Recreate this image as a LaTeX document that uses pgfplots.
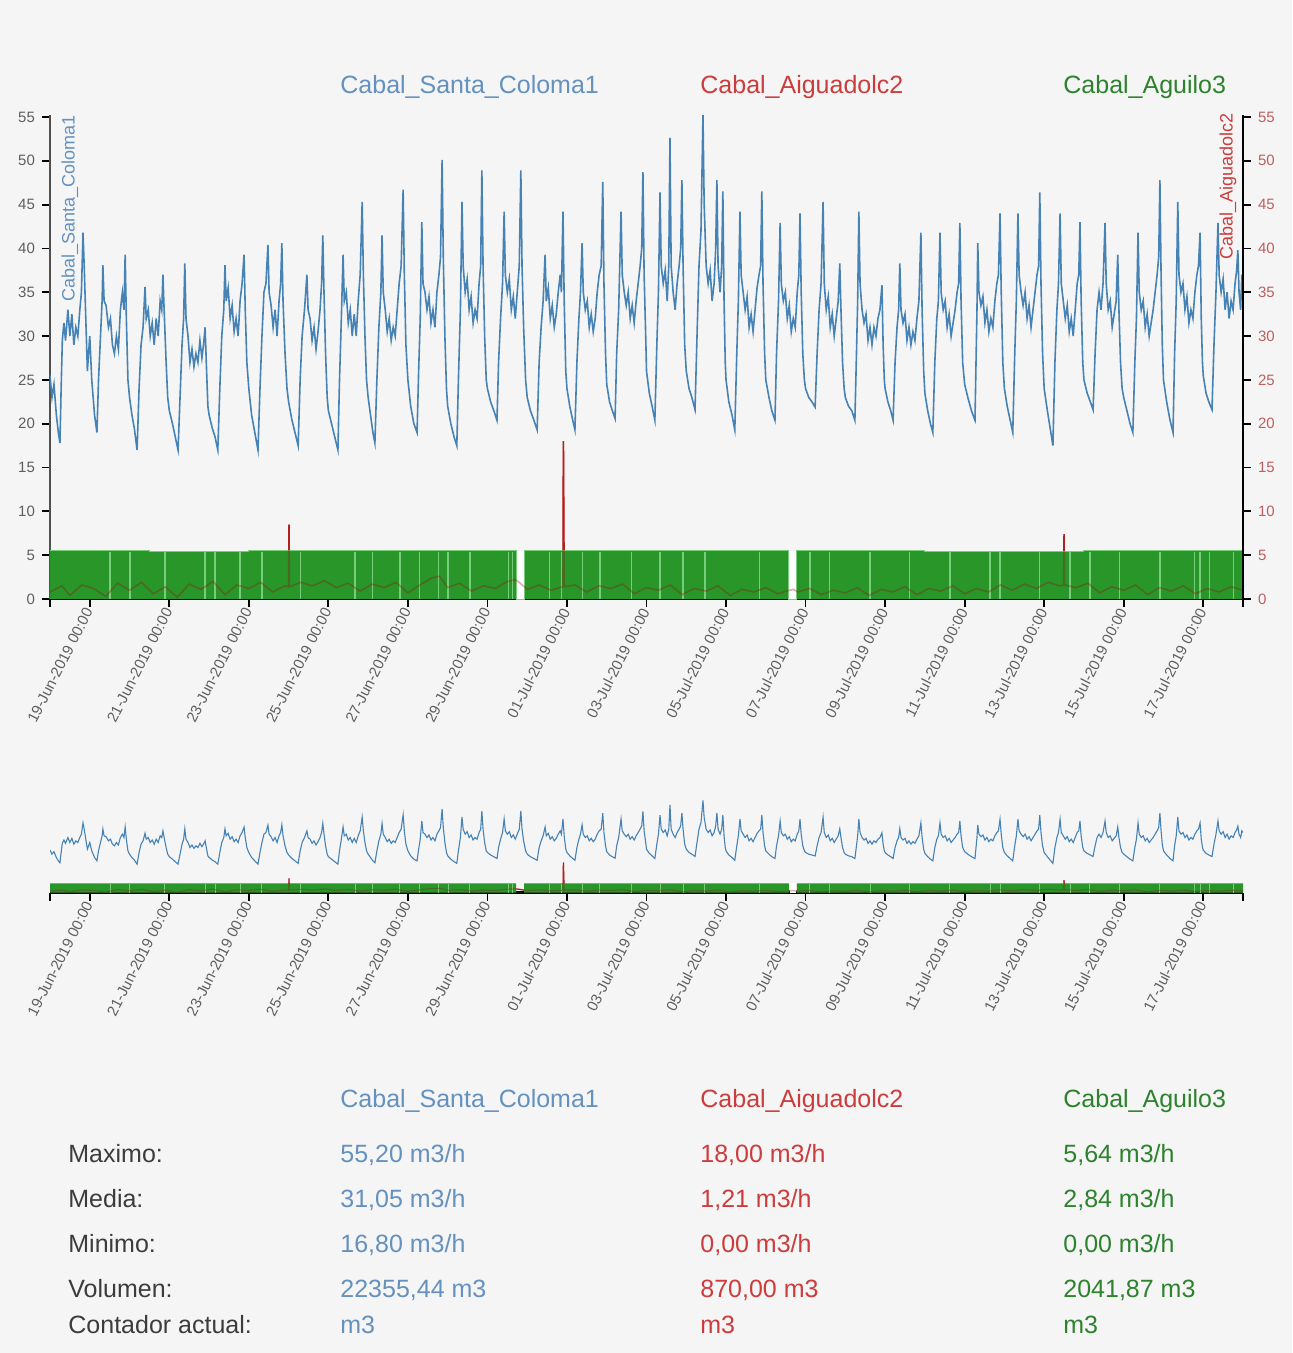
\documentclass[border=0pt]{standalone}
\usepackage{pgfplots}
\pgfplotsset{compat=1.18}
\usepackage{pgfplotstable}
\usepackage{fontspec}
\setmainfont{Liberation Sans}
\definecolor{bg}{RGB}{245,245,245}
\definecolor{blueline}{RGB}{70,130,180}
\definecolor{bluetext}{RGB}{100,145,190}
\definecolor{redline}{RGB}{200,35,35}
\definecolor{redtext}{RGB}{205,60,60}
\definecolor{greenfill}{RGB}{40,150,40}
\definecolor{greenlight}{RGB}{120,205,120}
\definecolor{greentext}{RGB}{45,130,45}
\definecolor{tickgray}{RGB}{95,95,95}
\definecolor{labgray}{RGB}{60,60,60}
\definecolor{righttick}{RGB}{190,95,95}

\pgfplotstableread[row sep=\\]{t v\\
0.00 25.5\\ 0.05 23\\ 0.10 24.5\\ 0.16 21\\ 0.21 19\\ 0.25 17.8\\ 0.28 24\\ 0.31 29.5\\ 0.35 31.5\\ 0.39 29.5\\ 0.45 33\\ 0.50 30\\ 0.55 32.5\\ 0.60 29\\ 0.65 31\\ 0.70 30\\ 0.75 33\\ 0.79 35\\ 0.83 41.8\\ 0.86 38\\ 0.90 32\\ 0.94 26\\
1.00 30\\ 1.05 25\\ 1.12 21\\ 1.18 19\\ 1.22 25\\ 1.27 30\\ 1.31 34\\ 1.33 38.1\\ 1.36 34\\ 1.41 33.5\\ 1.47 31\\ 1.52 32\\ 1.57 29\\ 1.62 28\\ 1.67 30\\ 1.72 28.5\\ 1.77 33\\ 1.82 35\\ 1.86 33\\ 1.89 39.3\\ 1.92 32\\ 1.96 25\\
2.00 23\\ 2.06 21\\ 2.12 19.5\\ 2.19 17\\ 2.24 24\\ 2.29 29\\ 2.34 31\\ 2.39 35.6\\ 2.42 32\\ 2.47 33\\ 2.52 30\\ 2.57 31.5\\ 2.62 29\\ 2.67 32\\ 2.72 30\\ 2.77 34\\ 2.81 33\\ 2.84 37\\ 2.87 33\\ 2.92 27\\ 2.96 23\\
3.00 21.5\\ 3.08 20\\ 3.15 18.5\\ 3.22 17\\ 3.27 23\\ 3.32 29\\ 3.36 32\\ 3.39 38.3\\ 3.42 32\\ 3.47 30\\ 3.52 27\\ 3.57 28.5\\ 3.62 26.5\\ 3.67 28\\ 3.72 27\\ 3.77 29.5\\ 3.82 27.5\\ 3.86 29\\ 3.90 31\\ 3.93 27\\ 3.97 22\\
4.00 21\\ 4.08 19.5\\ 4.15 18.5\\ 4.22 17\\ 4.27 24\\ 4.32 30\\ 4.37 33\\ 4.40 38.1\\ 4.43 34\\ 4.48 35.5\\ 4.53 32\\ 4.58 33.5\\ 4.63 30.5\\ 4.68 32\\ 4.73 30\\ 4.78 34\\ 4.83 36\\ 4.88 39.3\\ 4.91 33\\ 4.95 27\\
5.00 24\\ 5.07 21\\ 5.15 19\\ 5.23 17\\ 5.28 24\\ 5.33 30\\ 5.38 35\\ 5.43 36\\ 5.48 40.4\\ 5.51 35\\ 5.56 33.5\\ 5.61 31\\ 5.66 33\\ 5.71 30\\ 5.76 34\\ 5.80 36\\ 5.83 40.6\\ 5.86 34\\ 5.91 28\\ 5.96 24\\
6.00 22.5\\ 6.08 20.5\\ 6.16 19\\ 6.24 17.5\\ 6.29 25\\ 6.34 30\\ 6.40 33\\ 6.46 37\\ 6.49 33\\ 6.54 32\\ 6.59 29.5\\ 6.64 31\\ 6.69 28.5\\ 6.74 30.5\\ 6.79 33\\ 6.83 36\\ 6.86 41.5\\ 6.89 35\\ 6.93 28\\ 6.97 23\\
7.00 21.5\\ 7.08 20\\ 7.16 18.5\\ 7.24 17\\ 7.28 25\\ 7.32 31\\ 7.37 39.3\\ 7.40 34\\ 7.45 35\\ 7.50 31.5\\ 7.55 33\\ 7.60 30\\ 7.65 32.5\\ 7.70 30\\ 7.75 34\\ 7.80 37\\ 7.85 45.3\\ 7.88 37\\ 7.92 30\\ 7.96 25\\
8.00 23\\ 8.06 21\\ 8.12 19\\ 8.17 17.8\\ 8.22 25\\ 8.27 31\\ 8.32 35\\ 8.35 41.5\\ 8.38 35\\ 8.43 33\\ 8.48 30.5\\ 8.53 32\\ 8.58 29.5\\ 8.63 31\\ 8.68 30\\ 8.73 33\\ 8.78 36\\ 8.83 38\\ 8.88 46.7\\ 8.91 37\\ 8.95 29\\
9.00 25\\ 9.07 22\\ 9.15 20\\ 9.23 19\\ 9.27 26\\ 9.31 32\\ 9.35 43\\ 9.38 36\\ 9.43 35\\ 9.48 33\\ 9.53 34.5\\ 9.58 31.5\\ 9.63 33\\ 9.68 31\\ 9.73 35\\ 9.78 37\\ 9.82 39\\ 9.86 50.1\\ 9.89 39\\ 9.93 30\\ 9.97 24\\
10.00 22\\ 10.08 20\\ 10.16 18.5\\ 10.23 17.5\\ 10.27 25\\ 10.32 33\\ 10.36 45.3\\ 10.39 38\\ 10.44 35\\ 10.49 36.5\\ 10.54 33\\ 10.59 34.5\\ 10.64 31.5\\ 10.69 33\\ 10.74 32\\ 10.79 36\\ 10.83 38\\ 10.86 48.9\\ 10.89 38\\ 10.93 30\\ 10.97 25\\
11.00 24\\ 11.08 22.5\\ 11.16 21.5\\ 11.24 20.4\\ 11.28 27\\ 11.33 32\\ 11.38 36\\ 11.42 44.2\\ 11.45 37\\ 11.50 35\\ 11.55 36.5\\ 11.60 33\\ 11.65 34.5\\ 11.70 32\\ 11.75 35\\ 11.80 38\\ 11.84 48.9\\ 11.87 38\\ 11.91 31\\ 11.96 25\\
12.00 23\\ 12.08 21.5\\ 12.16 20.5\\ 12.25 19.3\\ 12.30 27\\ 12.35 31\\ 12.40 34\\ 12.45 39.3\\ 12.48 34\\ 12.53 35.5\\ 12.58 32\\ 12.63 33.5\\ 12.68 31\\ 12.73 32.5\\ 12.78 35\\ 12.83 37\\ 12.86 35\\ 12.90 44.2\\ 12.93 34\\ 12.97 26\\
13.00 24\\ 13.07 22\\ 13.14 20.5\\ 13.20 19.3\\ 13.25 27\\ 13.30 32\\ 13.34 35\\ 13.38 40.6\\ 13.41 35\\ 13.46 33\\ 13.51 34\\ 13.56 31\\ 13.61 32.5\\ 13.66 30.5\\ 13.71 32\\ 13.76 35\\ 13.81 37\\ 13.86 38\\ 13.90 47.6\\ 13.93 36\\ 13.97 28\\
14.00 24.5\\ 14.07 22.5\\ 14.14 21.5\\ 14.21 20.6\\ 14.25 28\\ 14.30 33\\ 14.36 44.2\\ 14.39 37\\ 14.44 35\\ 14.49 33.5\\ 14.54 35\\ 14.59 32\\ 14.64 33.5\\ 14.69 31.5\\ 14.74 34\\ 14.79 36\\ 14.84 38\\ 14.88 40\\ 14.91 48.7\\ 14.94 37\\ 14.98 30\\
15.00 26\\ 15.07 23.5\\ 15.14 22\\ 15.21 20.4\\ 15.26 29\\ 15.30 35\\ 15.34 46.4\\ 15.37 38\\ 15.42 36\\ 15.47 37.5\\ 15.52 34\\ 15.56 38\\ 15.59 52.6\\ 15.62 38\\ 15.67 35\\ 15.72 33\\ 15.77 36\\ 15.82 38\\ 15.86 40\\ 15.89 47.8\\ 15.92 38\\ 15.96 29\\
16.00 26\\ 16.07 24\\ 16.14 23\\ 16.22 21.6\\ 16.27 30\\ 16.32 38\\ 16.37 42\\ 16.42 55.2\\ 16.45 45\\ 16.50 38\\ 16.55 36\\ 16.60 37.5\\ 16.65 34\\ 16.70 36\\ 16.74 40\\ 16.77 47.8\\ 16.80 38\\ 16.85 35\\ 16.89 38\\ 16.92 46.5\\ 16.95 34\\ 16.98 27\\
17.00 25\\ 17.07 22.5\\ 17.15 21\\ 17.22 19.3\\ 17.27 28\\ 17.31 34\\ 17.35 44.2\\ 17.38 37\\ 17.43 35\\ 17.48 33\\ 17.53 34.5\\ 17.58 31\\ 17.63 32.5\\ 17.68 30.5\\ 17.73 33\\ 17.78 35.5\\ 17.83 37\\ 17.87 38\\ 17.90 46.5\\ 17.93 36\\ 17.97 28\\
18.00 25\\ 18.08 23\\ 18.15 21.5\\ 18.23 20.4\\ 18.27 28\\ 18.32 34\\ 18.36 42.9\\ 18.39 36\\ 18.44 34\\ 18.49 35\\ 18.54 32\\ 18.59 33.5\\ 18.64 30.5\\ 18.69 32\\ 18.74 31\\ 18.79 35\\ 18.83 37\\ 18.86 44\\ 18.89 35\\ 18.93 28\\ 18.97 25\\
19.00 24\\ 19.08 23\\ 19.16 22.5\\ 19.24 21.9\\ 19.29 28\\ 19.34 33\\ 19.39 36\\ 19.44 45.3\\ 19.47 36\\ 19.52 33\\ 19.57 34.5\\ 19.62 31\\ 19.67 32.5\\ 19.72 30\\ 19.77 32\\ 19.82 34\\ 19.86 38.3\\ 19.89 33\\ 19.93 27\\ 19.97 24\\
20.00 23\\ 20.08 22\\ 20.16 21.5\\ 20.24 20.4\\ 20.28 28\\ 20.31 34\\ 20.34 44.2\\ 20.37 36\\ 20.42 33\\ 20.47 31.5\\ 20.52 32.5\\ 20.57 29.5\\ 20.62 31\\ 20.67 29\\ 20.72 31\\ 20.77 30\\ 20.82 32\\ 20.87 33\\ 20.92 35.8\\ 20.95 29\\ 20.98 25\\
21.00 24\\ 21.07 22.5\\ 21.14 21.5\\ 21.20 20.4\\ 21.25 27\\ 21.30 31\\ 21.34 33\\ 21.37 38.3\\ 21.40 33\\ 21.45 31.5\\ 21.50 32.5\\ 21.55 29.5\\ 21.60 31\\ 21.65 29\\ 21.70 30.5\\ 21.75 29.5\\ 21.80 32\\ 21.85 34\\ 21.90 41.8\\ 21.93 33\\ 21.97 26\\
22.00 23.5\\ 22.07 21.5\\ 22.14 20\\ 22.20 19\\ 22.25 27\\ 22.30 32\\ 22.34 34\\ 22.38 41.8\\ 22.41 35\\ 22.46 33\\ 22.51 34\\ 22.56 31\\ 22.61 32.5\\ 22.66 30\\ 22.71 31.5\\ 22.76 33\\ 22.81 35\\ 22.85 36\\ 22.88 42.9\\ 22.91 34\\ 22.95 27\\
23.00 24.5\\ 23.08 23\\ 23.17 21.5\\ 23.26 20.4\\ 23.29 28\\ 23.31 33\\ 23.33 40.6\\ 23.36 35\\ 23.41 33.5\\ 23.46 34.5\\ 23.51 31.5\\ 23.56 33\\ 23.61 30.5\\ 23.66 32\\ 23.71 31\\ 23.76 34\\ 23.81 36\\ 23.85 37\\ 23.89 44\\ 23.92 35\\ 23.96 27\\
24.00 24\\ 24.07 22\\ 24.14 20.5\\ 24.21 19\\ 24.26 28\\ 24.30 34\\ 24.34 44\\ 24.37 37\\ 24.42 35\\ 24.47 33.5\\ 24.52 35\\ 24.57 32\\ 24.62 33.5\\ 24.67 31\\ 24.72 33\\ 24.77 35\\ 24.82 37\\ 24.86 38\\ 24.89 46.4\\ 24.92 36\\ 24.96 28\\
25.00 24\\ 25.08 21.5\\ 25.15 19.5\\ 25.22 17.5\\ 25.27 27\\ 25.32 33\\ 25.36 36\\ 25.40 44\\ 25.43 36\\ 25.48 34\\ 25.53 32\\ 25.58 33.5\\ 25.63 30.5\\ 25.68 32\\ 25.73 30\\ 25.78 33\\ 25.83 36\\ 25.87 37\\ 25.90 43\\ 25.93 34\\ 25.97 27\\
26.00 25\\ 26.08 23.5\\ 26.16 22.5\\ 26.23 21.6\\ 26.28 28\\ 26.33 33\\ 26.38 35\\ 26.43 33\\ 26.48 36\\ 26.53 42.9\\ 26.56 36\\ 26.61 33\\ 26.66 34\\ 26.71 31\\ 26.76 32.5\\ 26.81 34\\ 26.85 39.3\\ 26.88 33\\ 26.92 27\\ 26.96 24\\
27.00 23\\ 27.08 21.5\\ 27.16 20\\ 27.23 19\\ 27.28 27\\ 27.32 32\\ 27.36 41.8\\ 27.39 35\\ 27.44 33\\ 27.49 34\\ 27.54 31\\ 27.59 32.5\\ 27.64 30\\ 27.69 31.5\\ 27.74 33\\ 27.79 35\\ 27.84 37\\ 27.88 39\\ 27.91 47.8\\ 27.94 37\\ 27.97 29\\
28.00 25\\ 28.08 22.5\\ 28.16 20.5\\ 28.24 19\\ 28.28 28\\ 28.32 34\\ 28.36 45.3\\ 28.39 37\\ 28.44 35\\ 28.49 36\\ 28.54 33\\ 28.59 34.5\\ 28.64 31.5\\ 28.69 33\\ 28.74 32\\ 28.79 35\\ 28.84 37\\ 28.88 38\\ 28.92 41.8\\ 28.95 32\\ 28.98 27\\
29.00 25.5\\ 29.07 23.5\\ 29.14 22.5\\ 29.22 21.6\\ 29.27 29\\ 29.32 35\\ 29.37 42.9\\ 29.40 37\\ 29.45 35\\ 29.50 36.5\\ 29.55 33\\ 29.60 35\\ 29.65 32\\ 29.70 34\\ 29.75 33\\ 29.80 36\\ 29.84 37.5\\ 29.87 39.8\\ 29.90 35\\ 29.94 33\\ 29.97 37\\ 30.00 36\\
}\bluetab

\pgfplotstableread[row sep=\\]{t v\\
0 0.8\\ 0.3 1.5\\ 0.5 0.4\\ 0.8 1.6\\ 1.1 1.2\\ 1.4 0.3\\ 1.7 1.8\\ 2.0 1.0\\ 2.3 1.9\\ 2.6 0.6\\ 2.9 1.4\\ 3.2 0.2\\ 3.5 1.7\\ 3.8 1.1\\ 4.1 2.0\\ 4.4 0.5\\ 4.7 1.6\\ 5.0 1.2\\ 5.3 1.9\\ 5.6 0.8\\ 5.9 1.5\\ 6.00 1.4\\ 6.01 8.5\\ 6.02 1.4\\ 6.3 1.9\\ 6.6 1.5\\ 6.9 2.1\\ 7.2 1.3\\ 7.5 1.8\\ 7.8 0.9\\ 8.1 1.7\\ 8.4 1.3\\ 8.7 1.9\\ 9.0 0.7\\ 9.3 1.6\\ 9.6 2.4\\ 9.8 2.6\\ 10.0 1.3\\ 10.3 1.8\\ 10.6 0.9\\ 10.9 1.5\\ 11.2 1.2\\ 11.5 2.0\\ 11.7 2.2\\ 11.8 1.9\\ 12.0 1.1\\ 12.3 1.6\\ 12.6 1.0\\ 12.90 1.4\\ 12.91 18\\ 12.93 1.4\\ 13.2 1.6\\ 13.5 0.8\\ 13.8 1.5\\ 14.1 1.2\\ 14.4 1.7\\ 14.7 0.6\\ 15.0 1.3\\ 15.3 1.0\\ 15.6 1.6\\ 15.9 0.5\\ 16.2 1.2\\ 16.5 0.9\\ 16.8 1.5\\ 17.1 0.4\\ 17.4 1.1\\ 17.7 0.8\\ 18.0 1.3\\ 18.3 0.6\\ 18.6 1.0\\ 18.7 1.1\\ 18.8 0.8\\ 19.1 1.2\\ 19.4 0.5\\ 19.7 1.0\\ 20.0 0.7\\ 20.3 1.3\\ 20.6 0.4\\ 20.9 1.1\\ 21.2 0.8\\ 21.5 1.4\\ 21.8 0.5\\ 22.1 1.2\\ 22.4 0.9\\ 22.7 1.5\\ 23.0 0.6\\ 23.3 1.2\\ 23.6 0.8\\ 23.9 1.6\\ 24.2 1.0\\ 24.5 1.7\\ 24.8 1.2\\ 25.1 1.9\\ 25.4 1.5\\ 25.49 1.6\\ 25.50 7.4\\ 25.51 1.6\\ 25.8 1.3\\ 26.1 1.8\\ 26.4 0.7\\ 26.7 1.4\\ 27.0 1.0\\ 27.3 1.6\\ 27.6 0.5\\ 27.9 1.3\\ 28.2 0.9\\ 28.5 1.5\\ 28.8 0.6\\ 29.1 1.2\\ 29.4 0.8\\ 29.7 1.4\\ 30 1.0\\
}\redtab

\pgfplotstableread[row sep=\\]{t v\\
0 5.5\\ 2.5 5.45\\ 5.0 5.55\\ 8.0 5.5\\ 11.72 0\\ 11.92 5.5\\ 14.0 5.55\\ 18.58 0\\ 18.78 5.5\\ 22.0 5.45\\ 26.0 5.5\\ 30 5.5\\
}\greentab

\pgfplotstableread[row sep=\\]{t v\\
1.51 5.4\\ 2.01 5.4\\ 2.89 5.4\\ 3.90 5.4\\ 4.15 5.4\\ 4.78 5.4\\ 5.33 5.4\\ 6.29 5.4\\ 7.67 5.4\\ 8.10 5.4\\ 8.80 5.4\\ 9.30 5.4\\ 9.76 5.4\\ 10.01 5.4\\ 10.56 5.4\\ 11.52 5.4\\ 11.64 5.4\\ 12.57 5.4\\ 12.87 5.4\\ 13.40 5.4\\ 13.83 5.4\\ 14.63 5.4\\ 15.34 5.4\\ 15.92 5.4\\ 16.47 5.4\\ 17.85 5.4\\ 19.11 5.4\\ 19.61 5.4\\ 20.62 5.4\\ 21.62 5.4\\ 22.63 5.4\\ 23.64 5.4\\ 23.89 5.4\\ 24.89 5.4\\ 25.65 5.4\\ 26.15 5.4\\ 26.90 5.4\\ 27.91 5.4\\ 28.79 5.4\\ 28.92 5.4\\ 29.16 5.4\\ 29.77 5.4\\
}\stripetab

\pgfplotsset{
  common/.style={
    scale only axis, width=596.5pt,
    xmin=0, xmax=30, ymin=0, ymax=55.2,
    tick align=outside, major tick length=4pt,
    every tick/.style={black, line width=0.9pt},
    /pgf/number format/assume math mode=true,
    clip=true,
  },
  datelabels/.style={
    xtick={1,3,...,29},
    xticklabels={19-Jun-2019 00:00,21-Jun-2019 00:00,23-Jun-2019 00:00,25-Jun-2019 00:00,27-Jun-2019 00:00,29-Jun-2019 00:00,01-Jul-2019 00:00,03-Jul-2019 00:00,05-Jul-2019 00:00,07-Jul-2019 00:00,09-Jul-2019 00:00,11-Jul-2019 00:00,13-Jul-2019 00:00,15-Jul-2019 00:00,17-Jul-2019 00:00},
    extra x ticks={0,30}, extra x tick labels={},
    xticklabel style={rotate=63, anchor=east, font=\fontsize{7.5}{9}\selectfont, text=tickgray, inner sep=1pt},
    x axis line style={black, line width=1.2pt},
  },
}

\begin{document}
\begin{tikzpicture}
\useasboundingbox (0,0) rectangle (646pt,-676.5pt);
\fill[bg] (0,0) rectangle (646pt,-676.5pt);

% main axis
\begin{axis}[common, datelabels,
  at={(25pt,-299.5pt)}, anchor=south west, height=241.9pt,
  axis x line*=bottom, axis y line*=left,
  ytick={0,5,...,55},
  yticklabel style={font=\fontsize{7.5}{9}\selectfont, text=tickgray},
  y axis line style={draw={rgb,255:red,80;green,80;blue,80}, line width=1.2pt},
]
\addplot[draw=redline, line width=0.8pt] table[x=t,y=v]{\redtab};
\addplot[draw=none, fill=greenfill, const plot] table[x=t,y=v]{\greentab} \closedcycle;
\addplot[ycomb, draw=greenlight, line width=0.6pt] table[x=t,y=v]{\stripetab};
\addplot[ycomb, draw=white, line width=3.5pt] coordinates {(11.82,5.5) (18.68,5.5)};
\addplot[const plot, draw=greenlight, line width=0.5pt] table[x=t,y=v]{\greentab};
\addplot[draw=redline!70!black, line width=0.8pt, opacity=0.35] table[x=t,y=v]{\redtab};
\addplot[draw=blueline, line width=0.8pt] table[x=t,y=v]{\bluetab};
\end{axis}

% right axis
\begin{axis}[common,
  at={(25pt,-299.5pt)}, anchor=south west, height=241.9pt,
  axis y line*=right, axis x line=none,
  ytick={0,5,...,55},
  yticklabel style={font=\fontsize{7.5}{9}\selectfont, text=righttick},
  y axis line style={black, line width=1.2pt},
]
\addplot[draw=none] coordinates {(0,0) (30,0)};
\end{axis}

% overview axis
\begin{axis}[common, datelabels,
  at={(25pt,-446.25pt)}, anchor=south west, height=46pt,
  axis x line*=bottom, axis y line=none,
  ytick=\empty,
]
\addplot[draw=redline, line width=0.6pt] table[x=t,y=v]{\redtab};
\addplot[draw=none, fill=greenfill, const plot] table[x=t,y=v]{\greentab} \closedcycle;
\addplot[ycomb, draw=greenlight, line width=0.5pt] table[x=t,y=v]{\stripetab};
\addplot[ycomb, draw=white, line width=3pt] coordinates {(18.68,5.5)};
\addplot[draw=redline!70!black, line width=0.6pt, opacity=0.35] table[x=t,y=v]{\redtab};
\addplot[draw=blueline, line width=0.55pt] table[x=t,y=v]{\bluetab};
\end{axis}

% axis titles inside
\node[rotate=90, anchor=east, font=\fontsize{9}{10}\selectfont, text=bluetext, inner sep=0pt] at (35pt,-57.5pt) {Cabal\_Santa\_Coloma1};
\node[rotate=90, anchor=east, font=\fontsize{9}{10}\selectfont, text=redtext, inner sep=0pt] at (614pt,-56.5pt) {Cabal\_Aiguadolc2};

% top legend
\begin{scope}[every node/.style={anchor=base west, inner sep=0pt, font=\fontsize{12.5}{14}\selectfont}]
\node[text=bluetext] at (170pt,-47pt) {Cabal\_Santa\_Coloma1};
\node[text=redtext] at (350pt,-47pt) {Cabal\_Aiguadolc2};
\node[text=greentext] at (531.5pt,-47pt) {Cabal\_Aguilo3};

% stats table
\node[text=bluetext] at (170pt,-553.5pt) {Cabal\_Santa\_Coloma1};
\node[text=redtext] at (350pt,-553.5pt) {Cabal\_Aiguadolc2};
\node[text=greentext] at (531.5pt,-553.5pt) {Cabal\_Aguilo3};

\node[text=labgray] at (34pt,-581pt) {Maximo:};
\node[text=labgray] at (34pt,-603.5pt) {Media:};
\node[text=labgray] at (34pt,-626pt) {Minimo:};
\node[text=labgray] at (34pt,-648.5pt) {Volumen:};
\node[text=labgray] at (34pt,-666.5pt) {Contador actual:};

\node[text=bluetext] at (170pt,-581pt) {55,20 m3/h};
\node[text=bluetext] at (170pt,-603.5pt) {31,05 m3/h};
\node[text=bluetext] at (170pt,-626pt) {16,80 m3/h};
\node[text=bluetext] at (170pt,-648.5pt) {22355,44 m3};
\node[text=bluetext] at (170pt,-666.5pt) {m3};

\node[text=redtext] at (350pt,-581pt) {18,00 m3/h};
\node[text=redtext] at (350pt,-603.5pt) {1,21 m3/h};
\node[text=redtext] at (350pt,-626pt) {0,00 m3/h};
\node[text=redtext] at (350pt,-648.5pt) {870,00 m3};
\node[text=redtext] at (350pt,-666.5pt) {m3};

\node[text=greentext] at (531.5pt,-581pt) {5,64 m3/h};
\node[text=greentext] at (531.5pt,-603.5pt) {2,84 m3/h};
\node[text=greentext] at (531.5pt,-626pt) {0,00 m3/h};
\node[text=greentext] at (531.5pt,-648.5pt) {2041,87 m3};
\node[text=greentext] at (531.5pt,-666.5pt) {m3};
\end{scope}
\end{tikzpicture}
\end{document}
